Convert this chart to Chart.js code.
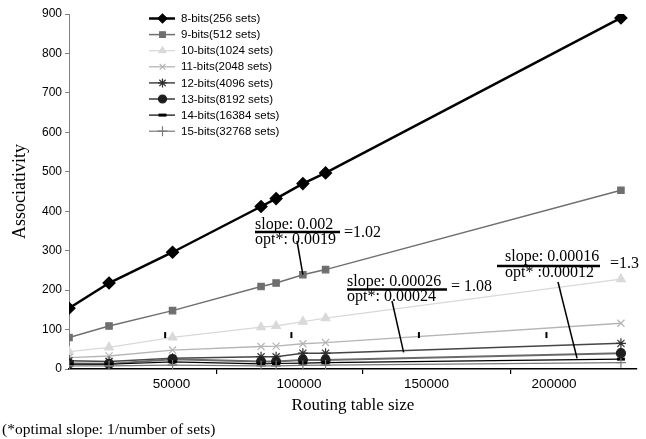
<!DOCTYPE html>
<html>
<head>
<meta charset="utf-8">
<title>Associativity vs routing table size</title>
<script src="https://cdn.jsdelivr.net/npm/chart.js@4/dist/chart.umd.min.js"></script>
<style>
  html, body { margin: 0; padding: 0; background: #fff; }
  #chart { display: block; }
</style>
</head>
<body>
<canvas id="chart" width="646" height="439"></canvas>
<script>
// Data
const tableSizes = [9800, 25500, 50400, 85100, 91000, 101500, 110400, 226200];
const bits8  = [154, 218, 296, 412, 432, 470, 497, 890];
const bits9  = [80, 109, 148, 209, 218, 239, 252, 453];
const bits10 = [44, 55, 80, 106, 109, 120, 129, 228];
const bits11 = [29, 33, 48, 57, 58, 64, 67, 116];
const bits12 = [21, 19, 27, 31, 31, 40, 40, 65];
const bits13 = [14, 13, 25, 19, 19, 23, 23, 40];
const bits14 = [12, 12, 18, 13, 14, 15, 16, 25];
const bits15 = [8, 8, 10, 8, 8, 9, 10, 16];
const seriesLabels = [
    '8-bits(256 sets)', '9-bits(512 sets)', '10-bits(1024 sets)', '11-bits(2048 sets)',
    '12-bits(4096 sets)', '13-bits(8192 sets)', '14-bits(16384 sets)', '15-bits(32768 sets)'
];
const xTickValues = [50000, 100000, 150000, 200000];
// the axis tick marks sit between the labels in the original
const xMarkValues = [67500, 125000, 183000];
const yTickValues = [0, 100, 200, 300, 400, 500, 600, 700, 800, 900];

// small stray marks along the 10-bits curve
const markX = [47500, 97000, 147000, 197000];
const markY = [86, 86, 86, 86];

// annotation leader targets (data coords)
const leaderTargets = [
    { x: 101500, y: 239 },
    { x: 141000, y: 42 },
    { x: 209000, y: 27 }
];

const serif = "'Liberation Serif', 'Times New Roman', serif";
const sans = "'Liberation Sans', Arial, sans-serif";

function toPoints(values) {
    return values.map((v, i) => ({ x: tableSizes[i], y: v }));
}

const styles = [
    { color: '#000000', line: 2.5, point: 'rectRot', radius: 6, legendRadius: 4.5, fill: '#000000' },
    { color: '#6f6f6f', line: 1.5, point: 'rect', radius: 4.5, legendRadius: 4, fill: '#6f6f6f' },
    { color: '#d9d9d9', line: 1.3, point: 'triangle', radius: 5, legendRadius: 4, fill: '#d9d9d9' },
    { color: '#b5b5b5', line: 1.3, point: 'crossRot', radius: 5, legendRadius: 4, fill: '#b5b5b5' },
    { color: '#454545', line: 1.5, point: 'star', radius: 5, legendRadius: 4.5, fill: '#303030' },
    { color: '#6a6a6a', line: 2, point: 'circle', radius: 4.5, legendRadius: 4, fill: '#1e1e1e' },
    { color: '#000000', line: 1.2, point: 'line', radius: 4, legendRadius: 4, fill: '#000000' },
    { color: '#7a7a7a', line: 1.2, point: 'cross', radius: 5, legendRadius: 5, fill: '#7a7a7a' }
];

const allSeries = [bits8, bits9, bits10, bits11, bits12, bits13, bits14, bits15];

const datasets = allSeries.map((values, i) => {
    const s = styles[i];
    const markerBorder = (i === 4 || i === 5 || i === 6) ? s.fill : s.color;
    return {
        label: seriesLabels[i],
        data: toPoints(values),
        showLine: true,
        borderColor: s.color,
        borderWidth: s.line,
        pointStyle: s.point,
        pointRadius: s.radius,
        pointBackgroundColor: s.fill,
        pointBorderColor: markerBorder,
        pointBorderWidth: i === 6 ? 3 : 1.2,
        tension: 0,
        order: 10 - i
    };
}).reverse();

datasets.push({
    label: 'marks',
    data: markX.map((x, i) => ({ x: x, y: markY[i] })),
    showLine: false,
    pointStyle: 'line',
    rotation: 90,
    pointRadius: 3,
    pointBorderWidth: 2,
    pointBorderColor: '#000',
    pointBackgroundColor: '#000'
});

// legend drawn inside the plot area
const insideLegend = {
    id: 'insideLegend',
    afterDraw(chart) {
        const ctx = chart.ctx;
        ctx.save();
        ctx.font = '11.5px ' + sans;
        ctx.textBaseline = 'middle';
        ctx.textAlign = 'left';
        seriesLabels.forEach((label, i) => {
            const s = styles[i];
            const y = 18.5 + i * 16.1;
            ctx.strokeStyle = s.color;
            ctx.lineWidth = s.line;
            ctx.beginPath();
            ctx.moveTo(149, y);
            ctx.lineTo(175, y);
            ctx.stroke();
            if (Chart.helpers && Chart.helpers.drawPoint) {
                ctx.fillStyle = s.fill;
                ctx.strokeStyle = (i === 4 || i === 5 || i === 6) ? s.fill : s.color;
                ctx.lineWidth = i === 6 ? 3 : 1.2;
                Chart.helpers.drawPoint(ctx, {
                    pointStyle: s.point, radius: s.legendRadius, rotation: 0, borderWidth: ctx.lineWidth
                }, 162.5, y);
            }
            ctx.fillStyle = '#000';
            ctx.fillText(label, 181, y + 0.5);
        });
        ctx.restore();
    }
};

// slope annotations and footnote
const annotations = {
    id: 'annotations',
    afterDatasetsDraw(chart) {
        const ctx = chart.ctx;
        const xs = chart.scales.x;
        const ys = chart.scales.y;
        ctx.save();
        ctx.fillStyle = '#000';
        ctx.strokeStyle = '#000';
        ctx.font = '16px ' + serif;
        ctx.textBaseline = 'middle';
        ctx.textAlign = 'left';

        const fractions = [
            { top: 'slope: 0.002', bottom: 'opt*: 0.0019', ratio: '=1.02', x: 255, ty: 225, by: 240, barY: 232, barEnd: 340, rx: 344, ry: 233, lx: 297, ly: 241 },
            { top: 'slope: 0.00026', bottom: 'opt*: 0.00024', ratio: '= 1.08', x: 347, ty: 282, by: 297, barY: 289.5, barEnd: 447, rx: 451, ry: 287, lx: 392, ly: 301 },
            { top: 'slope: 0.00016', bottom: 'opt* :0.00012', ratio: '=1.3', x: 505, ty: 257, by: 273, barY: 266, barEnd: 600, rx: 610, ry: 264, lx: 558, ly: 282, barStart: 497 }
        ];

        fractions.forEach((f, i) => {
            ctx.fillText(f.top, f.x, f.ty);
            ctx.fillText(f.bottom, f.x, f.by);
            ctx.fillText(f.ratio, f.rx, f.ry);
            ctx.lineWidth = 2.5;
            ctx.beginPath();
            ctx.moveTo(f.barStart || f.x, f.barY);
            ctx.lineTo(f.barEnd, f.barY);
            ctx.stroke();
            const t = leaderTargets[i];
            ctx.lineWidth = 1.5;
            ctx.beginPath();
            ctx.moveTo(f.lx, f.ly);
            ctx.lineTo(xs.getPixelForValue(t.x), ys.getPixelForValue(t.y));
            ctx.stroke();
        });

        ctx.font = '15.5px ' + serif;
        ctx.fillText('(*optimal slope: 1/number of sets)', 2, 430);
        ctx.restore();
    }
};

new Chart(document.getElementById('chart'), {
    type: 'scatter',
    data: { datasets: datasets },
    options: {
        responsive: false,
        animation: false,
        devicePixelRatio: 1,
        layout: { padding: { top: 14, right: 9, left: 0, bottom: 20 } },
        plugins: {
            legend: { display: false },
            tooltip: { enabled: false }
        },
        scales: {
            x: {
                type: 'linear',
                min: tableSizes[0],
                max: 232500,
                afterBuildTicks: scale => {
                    scale.ticks = xTickValues.concat(xMarkValues).map(v => ({ value: v }));
                },
                afterFit: scale => { scale.height = 50; },
                border: { color: '#000', width: 1.5 },
                grid: {
                    drawOnChartArea: false,
                    drawTicks: true,
                    tickLength: 5,
                    lineWidth: 1.2,
                    color: c => (c.tick && xMarkValues.includes(c.tick.value)) ? '#000' : 'rgba(0,0,0,0)'
                },
                ticks: {
                    color: '#000',
                    font: { family: sans, size: 13.5 },
                    padding: 2,
                    maxRotation: 0,
                    autoSkip: false,
                    callback: v => xTickValues.includes(v) ? String(v) : ''
                },
                title: {
                    display: true,
                    text: 'Routing table size',
                    color: '#000',
                    font: { family: serif, size: 17 },
                    padding: { top: 0, bottom: 3 }
                }
            },
            y: {
                min: 0,
                max: 900,
                afterBuildTicks: scale => {
                    scale.ticks = yTickValues.map(v => ({ value: v }));
                },
                afterFit: scale => { scale.width = 69; },
                border: { color: '#808080', width: 1 },
                grid: { drawOnChartArea: false, drawTicks: true, tickLength: 4, color: '#808080' },
                ticks: {
                    color: '#000',
                    font: { family: sans, size: 12 },
                    padding: 3
                },
                title: {
                    display: true,
                    text: 'Associativity',
                    color: '#000',
                    font: { family: serif, size: 18 },
                    padding: { top: 9, bottom: 0 }
                }
            }
        }
    },
    plugins: [insideLegend, annotations]
});
</script>
</body>
</html>
